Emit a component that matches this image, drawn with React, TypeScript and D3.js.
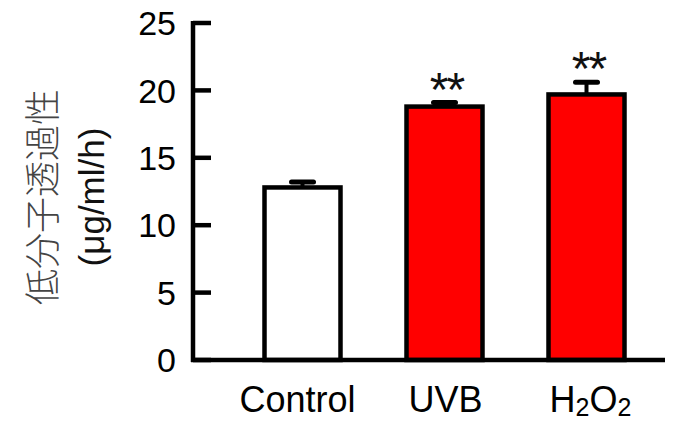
import React from "react";
import * as d3 from "d3";

const categories = ["Control", "UVB", "H2O2"];
const means = [12.8, 18.8, 19.7];
const errors = [0.4, 0.3, 0.9];
const fills = ["#ffffff", "#ff0000", "#ff0000"];
const significance = ["", "**", "**"];
const yTicks = [0, 5, 10, 15, 20, 25];
const yTitle1 = "低分子透過性";
const yTitle2 = "(μg/ml/h)";

const W = 675;
const H = 422;

export default function App() {
  const y = d3.scaleLinear().domain([0, 25]).range([360, 23]);
  const x = d3.scalePoint<string>().domain(categories).range([302.5, 586.5]);
  const axisX = 193;
  const barW = 76;
  const font = "Arial, 'Liberation Sans', sans-serif";
  const labelShift = [-5, 1, 4];

  return (
    <div style={{ position: "absolute", left: 0, top: 0 }}>
      <svg width={W} height={H} style={{ display: "block", background: "#fff" }}>
        {categories.map((c, i) => {
          const cx = x(c)!;
          const top = y(means[i]);
          const eTop = y(means[i] + errors[i]);
          return (
            <g key={c}>
              <line x1={cx} x2={cx} y1={top} y2={eTop} stroke="#000" strokeWidth={4} />
              <line x1={cx - 11} x2={cx + 11} y1={eTop} y2={eTop} stroke="#000" strokeWidth={5} strokeLinecap="round" />
              <rect x={cx - barW / 2} y={top} width={barW} height={y(0) - top} fill={fills[i]} stroke="#000" strokeWidth={4.5} />
              {significance[i] && (
                <text x={cx + 2} y={eTop + 3} textAnchor="middle" fontFamily={font} fontSize={48} letterSpacing={-2} fill="#111">
                  {significance[i]}
                </text>
              )}
            </g>
          );
        })}
        <line x1={axisX} x2={axisX} y1={y(25) - 2} y2={y(0) + 2} stroke="#000" strokeWidth={4.5} />
        <line x1={axisX - 2} x2={665} y1={y(0)} y2={y(0)} stroke="#000" strokeWidth={4.5} />
        {yTicks.map((t) => (
          <g key={t}>
            <line x1={axisX} x2={axisX + 18} y1={y(t)} y2={y(t)} stroke="#000" strokeWidth={4.5} />
            <text x={176} y={y(t)} dy="0.36em" textAnchor="end" fontFamily={font} fontSize={34} fill="#000">
              {t}
            </text>
          </g>
        ))}
        {categories.map((c, i) => (
          <text key={c} x={x(c)! + labelShift[i]} y={412} textAnchor="middle" fontFamily={font} fontSize={36} fill="#000">
            {c === "H2O2" ? (
              <>
                <tspan>H</tspan>
                <tspan fontSize={25} dy={4}>2</tspan>
                <tspan dy={-4}>O</tspan>
                <tspan fontSize={25} dy={4}>2</tspan>
              </>
            ) : (
              c
            )}
          </text>
        ))}
        <text transform="translate(56,197) rotate(-90)" textAnchor="middle" fontFamily="'Noto Sans CJK JP', sans-serif" fontWeight={300} fontSize={36} fill="#444">
          {yTitle1}
        </text>
        <text transform="translate(104,197) rotate(-90)" textAnchor="middle" fontFamily={font} fontSize={35} fill="#111">
          {yTitle2}
        </text>
      </svg>
    </div>
  );
}
